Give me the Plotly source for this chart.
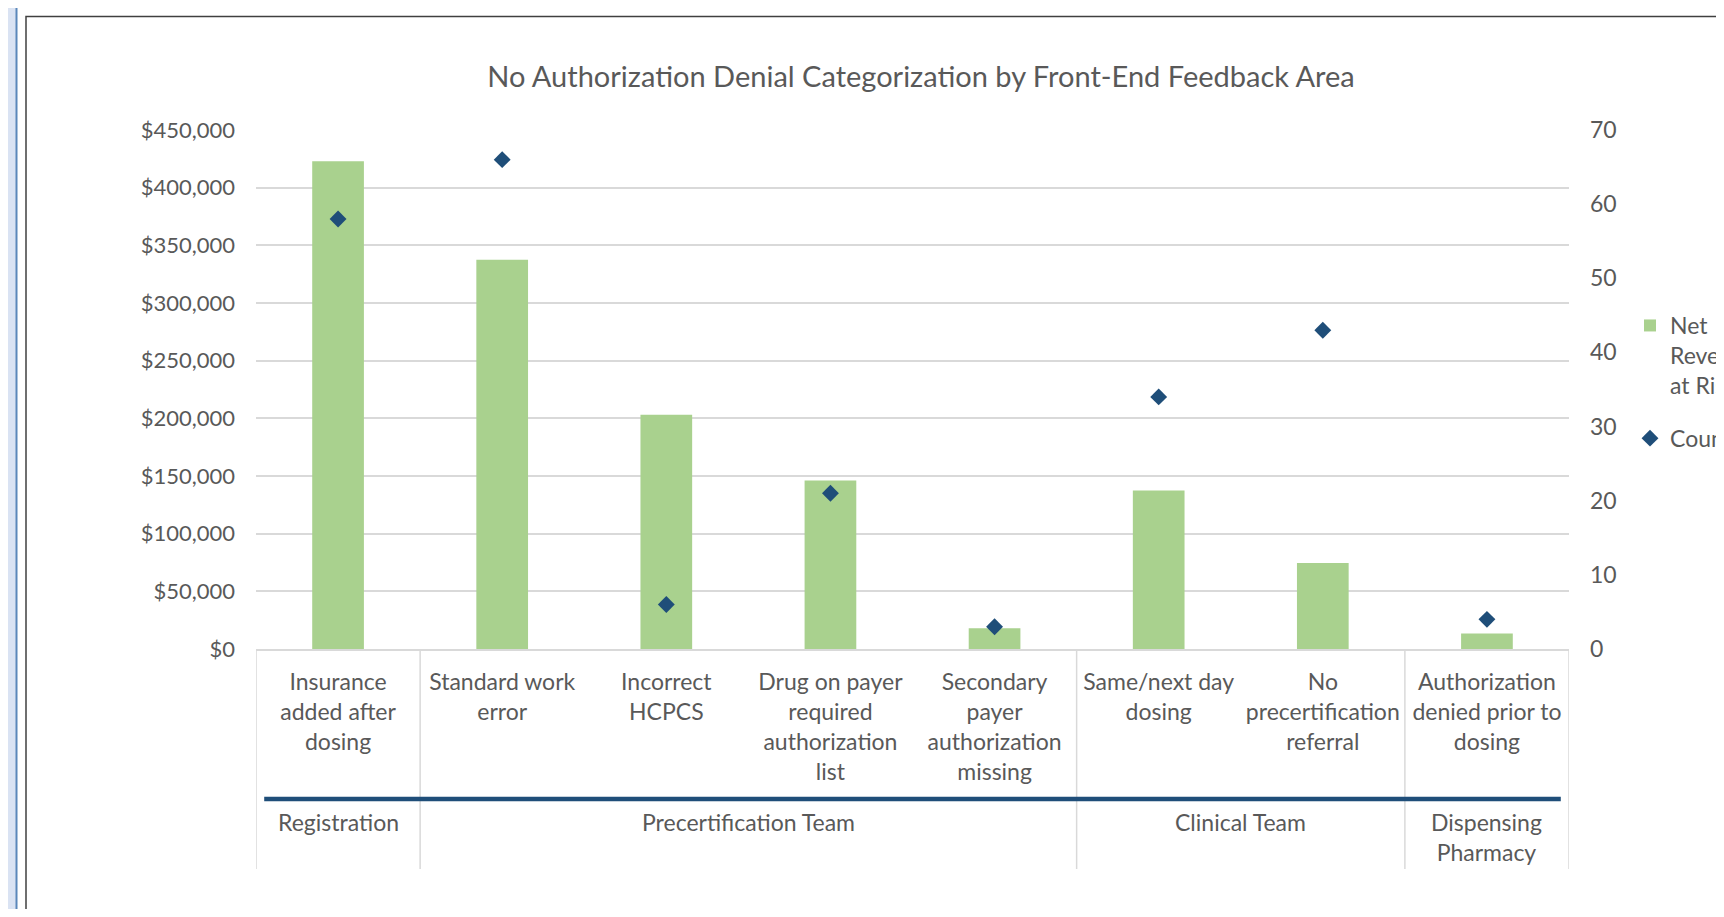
import plotly.graph_objects as go

# ---------------- data ----------------
categories = [
    "Insurance<br>added after<br>dosing",
    "Standard work<br>error",
    "Incorrect<br>HCPCS",
    "Drug on payer<br>required<br>authorization<br>list",
    "Secondary<br>payer<br>authorization<br>missing",
    "Same/next day<br>dosing",
    "No<br>precertification<br>referral",
    "Authorization<br>denied prior to<br>dosing",
]
net_revenue = [423000, 337500, 203000, 146000, 18000, 137500, 74500, 13500]
counts = [58, 66, 6, 21, 3, 34, 43, 4]
groups = ["Registration", "Precertification Team", "Clinical Team", "Dispensing<br>Pharmacy"]
group_sizes = [1, 4, 2, 1]
left_ticks = [0, 50000, 100000, 150000, 200000, 250000, 300000, 350000, 400000, 450000]
right_ticks = [0, 10, 20, 30, 40, 50, 60, 70]
title_text = "No Authorization Denial Categorization by Front-End Feedback Area"
bar_name = "Net<br>Revenue<br>at Risk"
count_name = "Count"

# ---------------- layout geometry (page pixels) ----------------
W, H = 1716, 901              # keep page free of scrollbars
OFF = 8                       # page body margin around the figure
PLOT_L, PLOT_R, PLOT_T, PLOT_B = 256, 1569, 130, 649   # page coordinates
ML = PLOT_L - OFF
MT = PLOT_T - OFF
PW = PLOT_R - PLOT_L
PH = PLOT_B - PLOT_T
MR = W - ML - PW
MB = H - MT - PH

def pxx(px):
    return (px - PLOT_L) / PW

def pxy(py):
    return (PLOT_B - py) / PH

TXT = "#595959"
GRID = "#d9d9d9"
FONT = "Lato"

idx = list(range(len(categories)))

fig = go.Figure()
fig.add_trace(go.Bar(
    x=idx, y=net_revenue, name=bar_name, legendgroup="a",
    marker=dict(color="#A9D18E", line=dict(width=0)),
    width=0.315, yaxis="y",
))
fig.add_trace(go.Scatter(
    x=idx, y=counts, name=count_name, mode="markers", legendgroup="b",
    marker=dict(symbol="diamond", size=13, color="#1F4E79"),
    yaxis="y2",
))

shapes = []
# page strip on the left
shapes.append(dict(type="rect", xref="paper", yref="paper",
                   x0=pxx(0), x1=pxx(16), y0=pxy(960), y1=pxy(-20),
                   fillcolor="#DAE3F3", line=dict(width=0), layer="below"))
shapes.append(dict(type="line", xref="paper", yref="paper",
                   x0=pxx(16.5), x1=pxx(16.5), y0=pxy(960), y1=pxy(-20),
                   line=dict(color="#5B87BA", width=2)))
# chart frame
shapes.append(dict(type="rect", xref="paper", yref="paper",
                   x0=pxx(26), x1=pxx(1800), y0=pxy(1000), y1=pxy(16.5),
                   fillcolor="rgba(0,0,0,0)", line=dict(color="#404040", width=1.5)))

# group dividers
bounds = [-0.5]
for s in group_sizes:
    bounds.append(bounds[-1] + s)
for b in bounds:
    shapes.append(dict(type="line", xref="x", yref="paper",
                       x0=b, x1=b, y0=pxy(PLOT_B), y1=pxy(869),
                       line=dict(color=GRID, width=1.5)))
# thick blue separator between the two label levels
shapes.append(dict(type="line", xref="x", yref="paper",
                   x0=bounds[0] + 0.05, x1=bounds[-1] - 0.05,
                   y0=pxy(799), y1=pxy(799),
                   line=dict(color="#1F4E79", width=4.5)))

annotations = []
for gname, lo, hi in zip(groups, bounds[:-1], bounds[1:]):
    annotations.append(dict(
        text=gname, x=(lo + hi) / 2, xref="x", y=pxy(806), yref="paper",
        xanchor="center", yanchor="top", showarrow=False,
        font=dict(family=FONT, size=23, color=TXT), align="center",
    ))

fig.update_layout(
    width=W, height=H,
    margin=dict(l=ML, r=MR, t=MT, b=MB, autoexpand=False),
    paper_bgcolor="white", plot_bgcolor="white",
    font=dict(family=FONT, size=23, color=TXT),
    title=dict(text=title_text, x=pxx(921), xref="paper", xanchor="center",
               y=1 - (77 - OFF) / H, yref="container", yanchor="middle",
               font=dict(family=FONT, size=29, color=TXT)),
    xaxis=dict(
        type="linear", tickmode="array", tickvals=idx, ticktext=categories,
        range=[-0.5, len(categories) - 0.5],
        showgrid=False, zeroline=False, showline=True, linecolor=GRID, linewidth=1.5,
        ticks="", ticklabelstandoff=12,
        tickfont=dict(family=FONT, size=23, color=TXT),
    ),
    yaxis=dict(
        range=[0, 450000], tickvals=left_ticks, tickformat="$,.0f",
        showgrid=True, gridcolor=GRID, gridwidth=1.5, zeroline=False,
        showline=False, ticks="", ticklabelstandoff=20,
        tickfont=dict(family=FONT, size=22, color=TXT),
    ),
    yaxis2=dict(
        range=[0, 70], tickvals=right_ticks, overlaying="y", side="right",
        showgrid=False, zeroline=False, showline=False, ticks="",
        ticklabelstandoff=20,
        tickfont=dict(family=FONT, size=23, color=TXT),
    ),
    legend=dict(x=pxx(1630), y=pxy(304), xanchor="left", yanchor="top",
                valign="top", font=dict(family=FONT, size=23, color=TXT),
                bgcolor="rgba(0,0,0,0)", traceorder="grouped", tracegroupgap=20),
    showlegend=True,
    shapes=shapes,
    annotations=annotations,
)

fig.write_html("out.html")
